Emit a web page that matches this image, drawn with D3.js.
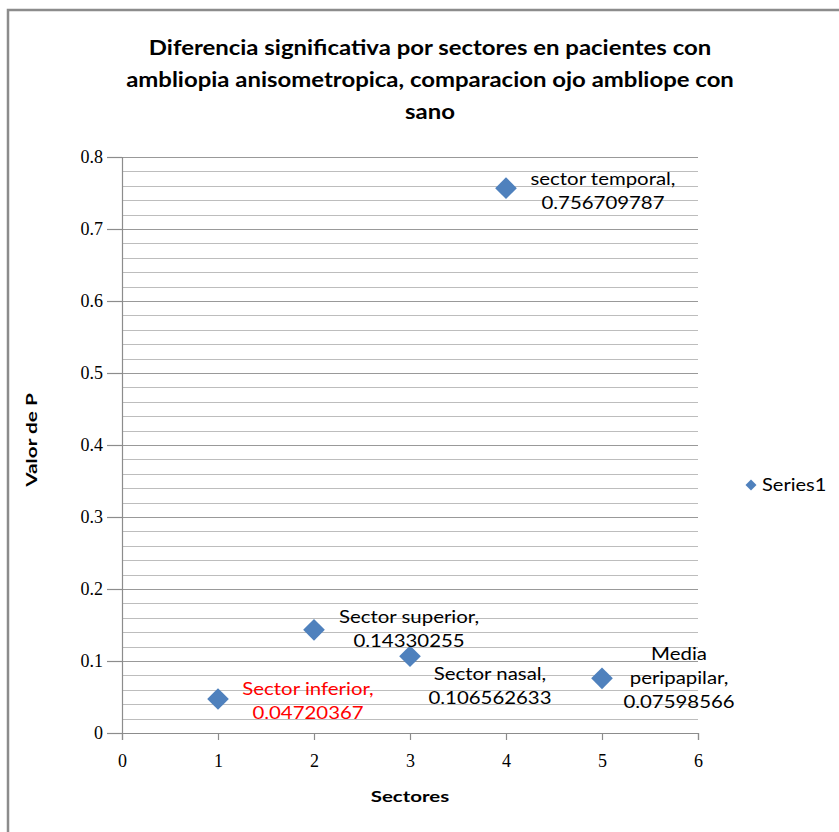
<!DOCTYPE html>
<html><head><meta charset="utf-8">
<script src="https://cdn.jsdelivr.net/npm/d3@7"></script>
<style>body{margin:0;background:#fff}svg{display:block}</style>
</head><body>
<script>
const sectorX = [1, 2, 3, 4, 5];
const pValues = [0.04720367, 0.14330255, 0.106562633, 0.756709787, 0.07598566];
const labelNames = [["Sector inferior,"], ["Sector superior,"], ["Sector nasal,"], ["sector temporal,"], ["Media", "peripapilar,"]];
const labelValues = ["0.04720367", "0.14330255", "0.106562633", "0.756709787", "0.07598566"];
const labelColors = ["#ff0000", "#000", "#000", "#000", "#000"];
const xTicks = [0, 1, 2, 3, 4, 5, 6];
const yTicks = [0, 0.1, 0.2, 0.3, 0.4, 0.5, 0.6, 0.7, 0.8];
const seriesName = "Series1";
const titleLines = ["Diferencia significativa por sectores en pacientes con", "ambliopia anisometropica, comparacion ojo ambliope con", "sano"];

const W = 839, H = 832;
const svg = d3.select("body").append("svg").attr("width", W).attr("height", H);
const uiFont = "Lato, 'Open Sans', sans-serif";
const numFont = "'Liberation Serif', serif";

// stretched text helper (reference glyphs are horizontally wide)
function stext(parent, tx, ty, txt, opts) {
  const g = parent.append("g").attr("transform", `translate(${tx},${ty}) rotate(${opts.rot || 0}) scale(${opts.sx || 1.2},1)`);
  return g.append("text").attr("x", 0).attr("y", 0)
    .attr("text-anchor", opts.anchor || "middle").attr("font-family", uiFont)
    .attr("font-size", opts.size || 17).attr("font-weight", opts.weight || "normal")
    .attr("fill", opts.fill || "#000").text(txt);
}

// frame
svg.append("path").attr("d", `M8,${H} L8,10 L${W},10`).attr("fill", "none").attr("stroke", "#8c8c8c").attr("stroke-width", 2.5);

const x = d3.scaleLinear().domain([0, 6]).range([122, 698]);
const y = d3.scaleLinear().domain([0, 0.8]).range([733, 157]);

// minor gridlines
const minor = d3.range(0, 0.8001, 0.02);
svg.append("g").selectAll("line").data(minor).join("line")
  .attr("x1", x(0)).attr("x2", x(6))
  .attr("y1", d => Math.round(y(d)) + 0.5).attr("y2", d => Math.round(y(d)) + 0.5)
  .attr("stroke", d => Math.abs(d * 10 - Math.round(d * 10)) < 1e-6 ? "#999" : "#bdbdbd").attr("stroke-width", 1.2);

// y axis
const yAxis = svg.append("g").attr("transform", `translate(${x(0)},0)`)
  .call(d3.axisLeft(y).tickValues(yTicks).tickSize(15).tickPadding(4).tickFormat(d => d === 0 ? "0" : d3.format(".1f")(d)));
yAxis.select(".domain").attr("stroke", "#8c8c8c").attr("stroke-width", 1.2);
yAxis.selectAll(".tick line").attr("stroke", "#8c8c8c").attr("stroke-width", 1.2);
yAxis.selectAll("text").attr("font-family", numFont).attr("font-size", 18).attr("fill", "#000");

// x axis
const xAxis = svg.append("g").attr("transform", `translate(0,${y(0)})`)
  .call(d3.axisBottom(x).tickValues(xTicks).tickSize(7).tickPadding(14).tickFormat(d3.format("d")));
xAxis.select(".domain").attr("stroke", "#8c8c8c").attr("stroke-width", 1.2);
xAxis.selectAll(".tick line").attr("stroke", "#8c8c8c").attr("stroke-width", 1.2);
xAxis.selectAll("text").attr("font-family", numFont).attr("font-size", 18).attr("fill", "#000");

// title
titleLines.forEach((t, i) => stext(svg, 430, 55 + i * 32, t, {size: 21, weight: "bold", sx: 1.14}));

// axis titles
stext(svg, 410, 802, "Sectores", {size: 16, weight: "bold", sx: 1.28});
stext(svg, 37, 440, "Valor de P", {size: 16, weight: "bold", sx: 1.3, rot: -90});

// markers
const data = sectorX.map((d, i) => ({x: d, y: pValues[i], i}));
svg.append("g").selectAll("path").data(data).join("path")
  .attr("transform", d => `translate(${x(d.x)},${y(d.y)}) rotate(45)`)
  .attr("d", d3.symbol().type(d3.symbolSquare).size(235))
  .attr("fill", "#4f81bd");

// labels: offsets relative to point
const labelOffsets = [[90, -10], [95, -13], [80, 18], [97, -9], [77, -24]];
const lg = svg.append("g");
data.forEach((d, i) => {
  const lines = labelNames[i].concat([labelValues[i]]);
  const cx = x(d.x) + labelOffsets[i][0];
  const cy0 = y(d.y) + labelOffsets[i][1];
  lines.forEach((t, k) => stext(lg, cx, cy0 + k * 24 + 6, t, {size: 17, fill: labelColors[i], sx: 1.2}));
});

// legend
svg.append("path").attr("transform", "translate(751,485) rotate(45)")
  .attr("d", d3.symbol().type(d3.symbolSquare).size(60)).attr("fill", "#4f81bd");
stext(svg, 762, 491, seriesName, {size: 17, anchor: "start", sx: 1.18});
</script>
</body></html>
